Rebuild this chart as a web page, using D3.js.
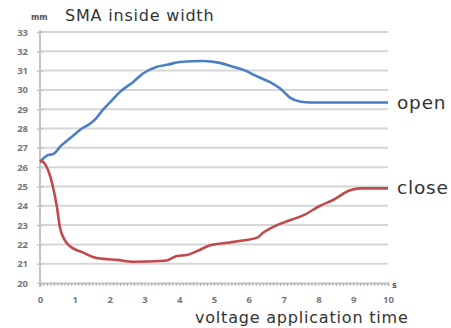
<!DOCTYPE html>
<html>
<head>
<meta charset="utf-8">
<script src="https://cdn.jsdelivr.net/npm/d3@7"></script>
<style>
  body { margin: 0; background: #fff; }
  svg { display: block; font-family: "DejaVu Sans", sans-serif; }
  .tick text { fill: #777; font-weight: bold; font-size: 9.5px; font-family: "Open Sans", sans-serif; }
  .lbl { fill: #333; letter-spacing: 0.8px; }
</style>
</head>
<body>
<div id="chart"></div>
<script>
// values (time in s, width in mm)
var openTime  = [0, 0.2, 0.4, 0.6, 0.8, 1.0, 1.2, 1.4, 1.6, 1.8, 2.01, 2.3, 2.67, 2.96, 3.36, 3.65, 4.02, 4.68, 5.17, 5.55, 5.83, 6.24, 6.61, 6.95, 7.18, 7.47, 7.76, 10];
var openVals  = [26.3, 26.6, 26.7, 27.1, 27.4, 27.7, 28.0, 28.2, 28.5, 28.95, 29.35, 29.9, 30.4, 30.85, 31.2, 31.3, 31.45, 31.5, 31.4, 31.2, 31.05, 30.7, 30.4, 30.0, 29.6, 29.4, 29.35, 29.35];
var closeTime = [0, 0.05, 0.23, 0.37, 0.49, 0.57, 0.72, 0.86, 1.21, 1.52, 1.81, 2.21, 2.67, 3.59, 3.94, 4.22, 4.51, 4.89, 5.46, 5.83, 6.24, 6.41, 6.81, 7.18, 7.56, 8.05, 8.42, 8.91, 9.2, 10];
var closeVals = [26.3, 26.3, 25.85, 25.0, 23.9, 22.9, 22.2, 21.9, 21.6, 21.35, 21.25, 21.2, 21.1, 21.15, 21.4, 21.45, 21.65, 21.95, 22.1, 22.2, 22.35, 22.6, 23.0, 23.25, 23.5, 24.0, 24.3, 24.8, 24.9, 24.9];
var yTicks = [20, 21, 22, 23, 24, 25, 26, 27, 28, 29, 30, 31, 32, 33];
var xTicks = [0, 1, 2, 3, 4, 5, 6, 7, 8, 9, 10];

var svgWidth = 451, svgHeight = 328;
var margin = {left: 40, top: 32, right: 63, bottom: 45};
var width = svgWidth - margin.left - margin.right;
var height = svgHeight - margin.top - margin.bottom;

var svg = d3.select("#chart").append("svg")
  .attr("width", svgWidth)
  .attr("height", svgHeight);
var g = svg.append("g")
  .attr("transform", `translate(${margin.left}, ${margin.top})`);

var x = d3.scaleLinear().domain([0, 10]).range([0, width]);
var y = d3.scaleLinear().domain([20, 33]).range([height, 0]);

// horizontal grid
g.selectAll(".grid").data(yTicks.slice(1)).enter().append("line")
  .attr("x1", 0).attr("x2", width)
  .attr("y1", d => y(d)).attr("y2", d => y(d))
  .attr("stroke", "#d6d6d6").attr("stroke-width", 2);

// y axis
var leftAxis = d3.axisLeft(y).tickValues(yTicks).tickSize(4).tickPadding(8);
var ya = g.append("g").call(leftAxis);
ya.select(".domain").attr("stroke", "#c4c4c4").attr("stroke-width", 2).attr("d", `M0,-2V${height + 4}`);
ya.selectAll(".tick line").attr("stroke", "#c4c4c4").attr("stroke-width", 1.5).attr("x2", 3).attr("x1", -3);

// x axis with small minor ticks every 0.1 s
var minor = d3.range(0, 101).map(d => d / 10);
g.append("g").attr("transform", `translate(0, ${height})`)
  .call(d3.axisBottom(x).tickValues(minor).tickSize(3).tickFormat(""))
  .call(s => s.select(".domain").attr("stroke", "#c4c4c4").attr("stroke-width", 2))
  .call(s => s.selectAll(".tick line").attr("stroke", "#b0b0b0"));
g.append("g").attr("transform", `translate(0, ${height})`)
  .call(d3.axisBottom(x).tickValues(xTicks).tickSize(0).tickPadding(13))
  .call(s => s.select(".domain").remove());

// lines
var line = d3.line().x(d => x(d[0])).y(d => y(d[1])).curve(d3.curveMonotoneX);
g.append("path").datum(d3.zip(openTime, openVals))
  .attr("d", line).attr("fill", "none").attr("stroke", "#4a7fc4").attr("stroke-width", 2.6);
g.append("path").datum(d3.zip(closeTime, closeVals))
  .attr("d", line).attr("fill", "none").attr("stroke", "#c1494c").attr("stroke-width", 2.6);

// series labels
g.append("text").attr("class", "lbl").attr("x", width + 9).attr("y", y(29.35) + 7)
  .attr("font-size", 18.5).text("open");
g.append("text").attr("class", "lbl").attr("x", width + 9).attr("y", y(24.9) + 6)
  .attr("font-size", 18.5).text("close");

// titles
svg.append("text").attr("x", 31).attr("y", 20)
  .attr("font-size", 8).attr("font-weight", "bold").attr("fill", "#555").text("mm");
svg.append("text").attr("class", "lbl").attr("x", 65).attr("y", 21)
  .attr("font-size", 16).text("SMA inside width");
svg.append("text").attr("x", 392).attr("y", 288)
  .attr("font-size", 8).attr("font-weight", "bold").attr("fill", "#555").text("s");
svg.append("text").attr("class", "lbl").attr("x", 195).attr("y", 323)
  .attr("font-size", 16).text("voltage application time");
</script>
</body>
</html>
